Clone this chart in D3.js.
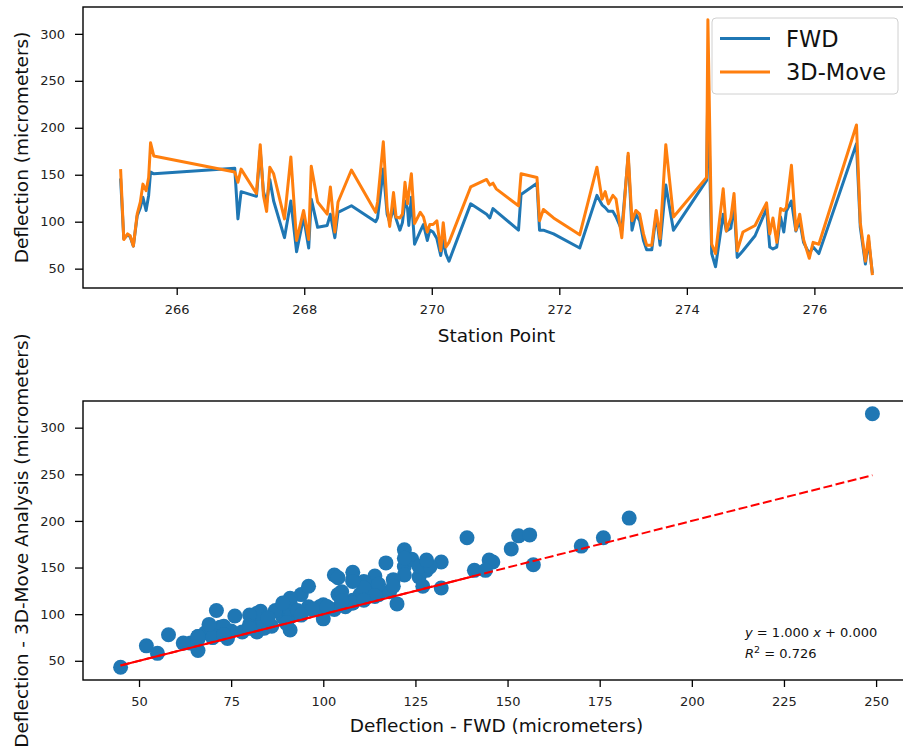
<!DOCTYPE html>
<html>
<head>
<meta charset="utf-8">
<script src="https://cdn.jsdelivr.net/npm/d3@7"></script>
<style>
  body { margin: 0; background: #fff; }
  svg { display: block; font-family: "DejaVu Sans", sans-serif; }
</style>
</head>
<body>
<svg id="chart" width="903" height="751"></svg>
<script>
// Station points along the survey and the two deflection measurements (micrometers)
const station = [
  265.12, 265.17, 265.23, 265.27, 265.32, 265.38, 265.43, 265.47, 265.52, 265.56,
  265.59, 265.64, 266.91, 266.96, 267.01, 267.25, 267.31, 267.36, 267.41, 267.46,
  267.52, 267.69, 267.79, 267.88, 267.99, 268.07, 268.11, 268.21, 268.36, 268.41,
  268.48, 268.53, 268.74, 269.12, 269.15, 269.24, 269.30, 269.34, 269.40, 269.44,
  269.50, 269.54, 269.58, 269.62, 269.64, 269.68, 269.73, 269.82, 269.87, 269.93,
  269.97, 270.02, 270.08, 270.14, 270.18, 270.22, 270.27, 270.61, 270.86, 270.91,
  270.96, 271.01, 271.36, 271.40, 271.65, 271.69, 271.75, 271.91, 272.32, 272.59,
  272.67, 272.72, 272.77, 272.84, 272.89, 272.98, 273.08, 273.14, 273.20, 273.26,
  273.32, 273.37, 273.45, 273.52, 273.58, 273.67, 273.79, 274.31, 274.33, 274.39,
  274.45, 274.57, 274.62, 274.69, 274.74, 274.79, 274.88, 275.07, 275.25, 275.30,
  275.35, 275.41, 275.47, 275.52, 275.56, 275.64, 275.71, 275.77, 275.83, 275.92,
  275.98, 276.07, 276.66, 276.72, 276.80, 276.85, 276.91
];
const fwd = [
  146, 82, 86, 84, 74, 106, 115, 126, 112, 128,
  153, 151, 157, 103, 132, 127, 176, 132, 120, 145,
  122, 83, 122, 68, 105, 72, 124, 94, 96, 108,
  83, 110, 117, 100, 104, 156, 108, 100, 114, 103,
  91, 99, 122, 114, 96, 126, 76, 90, 97, 80,
  91, 89, 82, 64, 80, 66, 58, 119, 108, 104,
  114, 111, 91, 129, 141, 91, 91, 87, 72, 128,
  118, 115, 111, 111, 105, 91, 170, 91, 108, 101,
  80, 70, 70, 108, 75, 139, 91, 144, 249, 66,
  52, 108, 90, 93, 119, 62, 69, 85, 114, 73,
  71, 73, 105, 89, 111, 122, 90, 101, 78, 66,
  73, 66, 183, 94, 55, 80, 45
];
const move = [
  156, 81, 87, 85, 74, 108, 121, 140, 133, 147,
  184, 170, 153, 142, 156, 130, 182, 128, 111, 158,
  151, 103, 169, 80, 112, 81, 159, 121, 108, 137,
  89, 121, 155, 110, 121, 185, 115, 95, 131, 105,
  104, 108, 142, 119, 130, 151, 98, 110, 105, 89,
  97, 97, 101, 69, 99, 73, 78, 137, 145, 139,
  141, 135, 117, 151, 147, 101, 113, 104, 86, 158,
  124, 132, 119, 128, 124, 83, 173, 101, 112, 108,
  87, 75, 75, 112, 82, 182, 105, 147, 315, 76,
  66, 135, 90, 104, 130, 69, 89, 96, 120, 87,
  104, 78, 114, 112, 115, 160, 91, 108, 81, 61,
  78, 76, 203, 99, 58, 85, 43
];

const stationTicks = [266, 268, 270, 272, 274, 276];
const deflectionTicks = [50, 100, 150, 200, 250, 300];
const fwdTicks = [50, 75, 100, 125, 150, 175, 200, 225, 250];
const seriesNames = ["FWD", "3D-Move"];

// Linear fit of 3D-Move against FWD
const fitSlope = 1.000;
const fitIntercept = 0.000;
const fitR2 = 0.726;
const fitSolidEnd = 141;

const BLUE = "#1f77b4", ORANGE = "#ff7f0e", RED = "#ff0000";
const TICK_FONT = 13, LABEL_FONT = 18.5;

const svg = d3.select("#chart");

// Extent padded by 5% on each side
function padded(values) {
  const [lo, hi] = d3.extent(values);
  const m = (hi - lo) * 0.05;
  return [lo - m, hi + m];
}

function styleAxis(g) {
  g.select(".domain").remove();
  g.selectAll(".tick line").attr("stroke", "#000").attr("stroke-width", 1.3);
  g.selectAll(".tick text").attr("fill", "#222").style("font-size", TICK_FONT + "px")
    .style("font-family", "DejaVu Sans, sans-serif");
}

function frame(box) {
  svg.append("rect")
    .attr("x", box.left).attr("y", box.top)
    .attr("width", box.right - box.left).attr("height", box.bottom - box.top)
    .attr("fill", "none").attr("stroke", "#000").attr("stroke-width", 1.4);
}

function clip(id, box) {
  svg.append("clipPath").attr("id", id).append("rect")
    .attr("x", box.left).attr("y", box.top)
    .attr("width", box.right - box.left).attr("height", box.bottom - box.top);
}

// ---------- Upper panel: deflection along the station points ----------
const upperBox = { left: 83, right: 910, top: 7, bottom: 288 };
const xs = d3.scaleLinear().domain(padded(station)).range([upperBox.left, upperBox.right]);
const yt = d3.scaleLinear().domain(padded(fwd.concat(move))).range([upperBox.bottom, upperBox.top]);
clip("clipUpper", upperBox);

svg.append("g").attr("transform", `translate(0,${upperBox.bottom})`)
  .call(d3.axisBottom(xs).tickValues(stationTicks).tickFormat(d3.format("d")).tickSize(7).tickPadding(10))
  .call(styleAxis);
svg.append("g").attr("transform", `translate(${upperBox.left},0)`)
  .call(d3.axisLeft(yt).tickValues(deflectionTicks).tickFormat(d3.format("d")).tickSize(8).tickPadding(10))
  .call(styleAxis);

const idx = d3.range(station.length);
const lineFwd = d3.line().x(i => xs(station[i])).y(i => yt(fwd[i]));
const lineMove = d3.line().x(i => xs(station[i])).y(i => yt(move[i]));
const plotUpper = svg.append("g").attr("clip-path", "url(#clipUpper)");
plotUpper.append("path").datum(idx).attr("d", lineFwd)
  .attr("fill", "none").attr("stroke", BLUE).attr("stroke-width", 3).attr("stroke-linejoin", "round");
plotUpper.append("path").datum(idx).attr("d", lineMove)
  .attr("fill", "none").attr("stroke", ORANGE).attr("stroke-width", 3).attr("stroke-linejoin", "round");
frame(upperBox);

// Legend
const lg = svg.append("g");
lg.append("rect").attr("x", 712).attr("y", 18).attr("width", 186).attr("height", 76).attr("rx", 4)
  .attr("fill", "#fff").attr("fill-opacity", 0.85).attr("stroke", "#d0d0d0").attr("stroke-width", 1);
[BLUE, ORANGE].forEach((c, k) => {
  const yy = 38.5 + k * 33.5;
  lg.append("line").attr("x1", 720).attr("x2", 770).attr("y1", yy).attr("y2", yy)
    .attr("stroke", c).attr("stroke-width", 3);
  lg.append("text").attr("x", 786).attr("y", yy + 8).attr("fill", "#111")
    .style("font-size", "22.5px").text(seriesNames[k]);
});

svg.append("text").attr("x", (upperBox.left + upperBox.right) / 2).attr("y", 342)
  .attr("text-anchor", "middle").attr("fill", "#111").style("font-size", LABEL_FONT + "px")
  .text("Station Point");
svg.append("text").attr("transform", `translate(28,${(upperBox.top + upperBox.bottom) / 2}) rotate(-90)`)
  .attr("text-anchor", "middle").attr("fill", "#111").style("font-size", LABEL_FONT + "px")
  .text("Deflection (micrometers)");

// ---------- Lower panel: 3D-Move against FWD ----------
const lowerBox = { left: 83, right: 910, top: 401, bottom: 680 };
const xf = d3.scaleLinear().domain(padded(fwd)).range([lowerBox.left, lowerBox.right]);
const ym = d3.scaleLinear().domain(padded(move)).range([lowerBox.bottom, lowerBox.top]);
clip("clipLower", lowerBox);

svg.append("g").attr("transform", `translate(0,${lowerBox.bottom})`)
  .call(d3.axisBottom(xf).tickValues(fwdTicks).tickFormat(d3.format("d")).tickSize(7).tickPadding(10))
  .call(styleAxis);
svg.append("g").attr("transform", `translate(${lowerBox.left},0)`)
  .call(d3.axisLeft(ym).tickValues(deflectionTicks).tickFormat(d3.format("d")).tickSize(8).tickPadding(10))
  .call(styleAxis);

const plotLower = svg.append("g").attr("clip-path", "url(#clipLower)");
plotLower.selectAll("circle").data(idx).join("circle")
  .attr("cx", i => xf(fwd[i])).attr("cy", i => ym(move[i])).attr("r", 7.5)
  .attr("fill", BLUE);

const [fx0, fx1] = d3.extent(fwd);
const fitY = x => fitSlope * x + fitIntercept;
plotLower.append("line")
  .attr("x1", xf(fx0)).attr("y1", ym(fitY(fx0))).attr("x2", xf(fx1)).attr("y2", ym(fitY(fx1)))
  .attr("stroke", RED).attr("stroke-width", 2).attr("stroke-dasharray", "9,3.5");
plotLower.append("line")
  .attr("x1", xf(fx0)).attr("y1", ym(fitY(fx0))).attr("x2", xf(fitSolidEnd)).attr("y2", ym(fitY(fitSolidEnd)))
  .attr("stroke", RED).attr("stroke-width", 2);
frame(lowerBox);

// Fit equation
const eq = svg.append("text").attr("x", 745).attr("y", 637).attr("fill", "#111").style("font-size", "13px");
eq.append("tspan").style("font-style", "italic").text("y");
eq.append("tspan").text(` = ${fitSlope.toFixed(3)} `);
eq.append("tspan").style("font-style", "italic").text("x");
eq.append("tspan").text(` + ${fitIntercept.toFixed(3)}`);
const r2 = svg.append("text").attr("x", 745).attr("y", 658).attr("fill", "#111").style("font-size", "13px");
r2.append("tspan").style("font-style", "italic").text("R");
r2.append("tspan").attr("dy", -5).style("font-size", "9.5px").text("2");
r2.append("tspan").attr("dy", 5).text(` = ${fitR2.toFixed(3)}`);

svg.append("text").attr("x", (lowerBox.left + lowerBox.right) / 2).attr("y", 732)
  .attr("text-anchor", "middle").attr("fill", "#111").style("font-size", LABEL_FONT + "px")
  .text("Deflection - FWD (micrometers)");
svg.append("text").attr("transform", `translate(28,${(lowerBox.top + lowerBox.bottom) / 2}) rotate(-90)`)
  .attr("text-anchor", "middle").attr("fill", "#111").style("font-size", LABEL_FONT + "px")
  .text("Deflection - 3D-Move Analysis (micrometers)");
</script>
</body>
</html>
